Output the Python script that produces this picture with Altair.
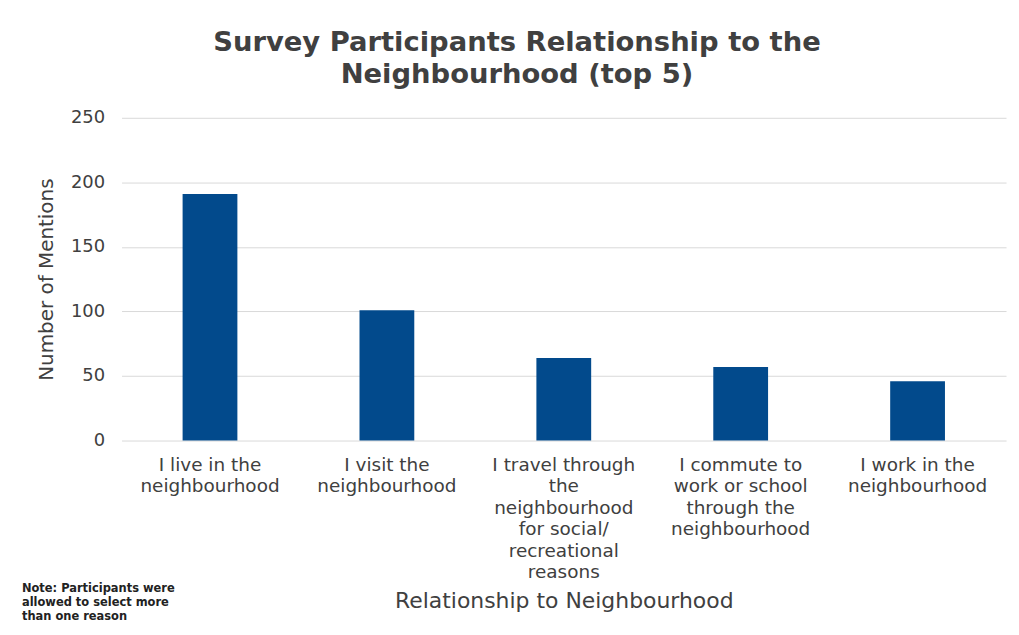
import altair as alt
import pandas as pd

categories = [
    "I live in the\nneighbourhood",
    "I visit the\nneighbourhood",
    "I travel through\nthe\nneighbourhood\nfor social/\nrecreational\nreasons",
    "I commute to\nwork or school\nthrough the\nneighbourhood",
    "I work in the\nneighbourhood",
]
mentions = [191, 101, 64, 57, 46]
y_ticks = [0, 50, 100, 150, 200, 250]
title_lines = ["Survey Participants Relationship to the", "Neighbourhood (top 5)"]
note_lines = ["Note: Participants were", "allowed to  select more", "than one reason"]

df = pd.DataFrame({"category": categories, "mentions": mentions})
note_df = pd.DataFrame({"line": note_lines, "i": list(range(len(note_lines)))})

FONT = "DejaVu Sans"
TXT = "#404040"

bars = alt.Chart(df).mark_bar(color="#024a8c", width=55).encode(
    x=alt.X(
        "category:N",
        sort=categories,
        title="Relationship to Neighbourhood",
        scale=alt.Scale(paddingInner=0.0, paddingOuter=0.0),
        axis=alt.Axis(
            labelAngle=0,
            labelExpr="split(datum.value, '\\n')",
            labelFont=FONT,
            labelFontSize=18.5,
            labelColor=TXT,
            labelLineHeight=21.5,
            labelPadding=15,
            labelBaseline="top",
            domain=False,
            ticks=False,
            titleFont=FONT,
            titleFontSize=22,
            titleFontWeight="normal",
            titleColor=TXT,
            titlePadding=10,
        ),
    ),
    y=alt.Y(
        "mentions:Q",
        title="Number of Mentions",
        scale=alt.Scale(domain=[0, 250], nice=False),
        axis=alt.Axis(
            values=y_ticks,
            labelFont=FONT,
            labelFontSize=18,
            labelColor=TXT,
            labelPadding=17,
            domain=False,
            ticks=False,
            grid=True,
            gridColor="#d9d9d9",
            gridWidth=1,
            titleFont=FONT,
            titleFontSize=20,
            titleFontWeight="normal",
            titleColor=TXT,
            titlePadding=14,
        ),
    ),
)

note = alt.Chart(note_df).transform_calculate(
    ypix="473 + datum.i * 14"
).mark_text(
    align="left", baseline="middle", font=FONT, fontSize=11.5, fontWeight="bold", color="#222222"
).encode(
    x=alt.value(-100),
    y=alt.Y("ypix:Q", scale=None),
    text="line:N",
)

chart = alt.layer(bars, note).properties(
    width=888,
    height=324,
    background="white",
    autosize=alt.AutoSizeParams(type="none"),
    padding={"left": 114, "top": 109, "right": 5, "bottom": 192},
    title=alt.TitleParams(
        text=title_lines,
        font=FONT,
        fontSize=27.5,
        fontWeight="bold",
        color=TXT,
        lineHeight=33,
        anchor="middle",
        dx=-47,
        offset=20,
    ),
).configure_view(stroke=None)

chart.save("out.html", embed_options={"renderer": "svg", "actions": False})
